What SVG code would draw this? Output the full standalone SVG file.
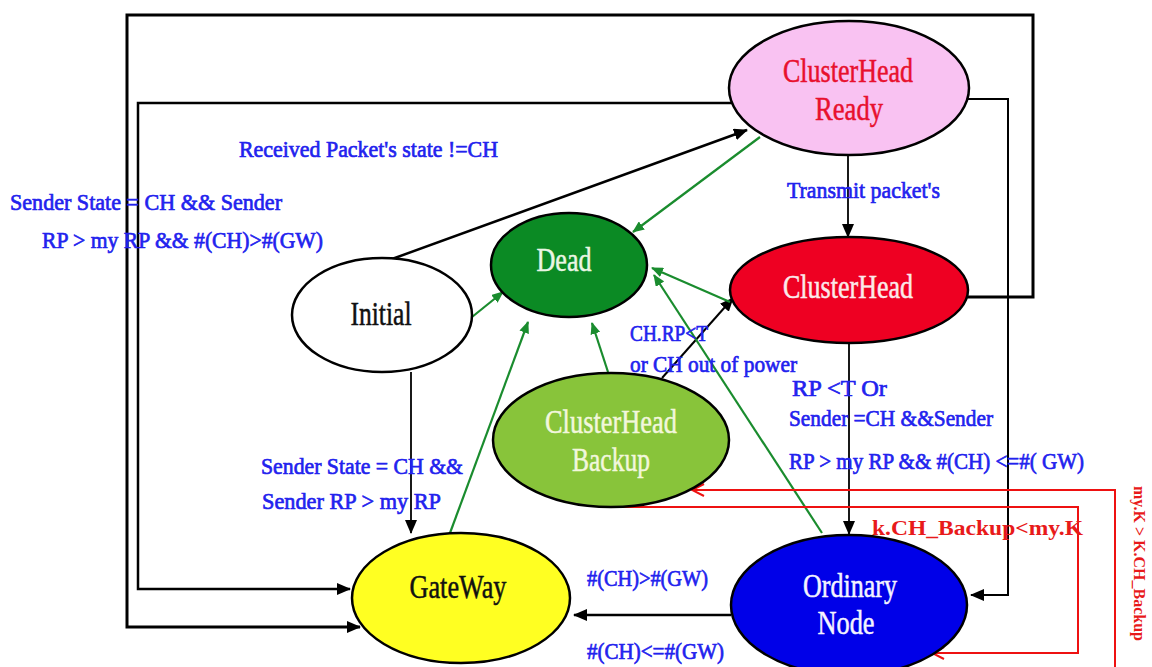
<svg xmlns="http://www.w3.org/2000/svg" width="1152" height="667" viewBox="0 0 1152 667">
<style>
.node{stroke:#000;stroke-width:2.5}
.nl{font-family:"Liberation Serif","Times New Roman",serif;font-size:33px;text-anchor:middle;stroke-width:0.5}
.lbl{font-family:"Liberation Serif","Times New Roman",serif;font-size:24px;fill:#2222ee;stroke:#2222ee;stroke-width:0.7}
.blk{fill:none;stroke:#000}
.grn{fill:none;stroke:#1a8c2e;stroke-width:2.2}
.red{fill:none;stroke:#ee1111;stroke-width:2}
.rl{font-family:"Liberation Serif","Times New Roman",serif;font-weight:bold;font-size:21px;fill:#e81a1a}
</style>
<defs>
<marker id="ab" viewBox="0 0 14 12" refX="13" refY="6" markerWidth="14" markerHeight="12" orient="auto" markerUnits="userSpaceOnUse"><path d="M0,0 L14,6 L0,12 z" fill="#000"/></marker>
<marker id="ag" viewBox="0 0 12 10" refX="11" refY="5" markerWidth="12" markerHeight="10" orient="auto" markerUnits="userSpaceOnUse"><path d="M0,0 L12,5 L0,10 z" fill="#1a8c2e"/></marker>
<marker id="ar" viewBox="0 0 14 14" refX="13" refY="7" markerWidth="14" markerHeight="14" orient="auto" markerUnits="userSpaceOnUse"><path d="M1,1 L13,7 L1,13" fill="none" stroke="#ee1111" stroke-width="2"/></marker>
</defs>
<rect width="1152" height="667" fill="#fff"/>
<g id="connectors">
<path class="blk" stroke-width="3" d="M966,297 H1033 V15 H127 V627 H360" marker-end="url(#ab)"/>
<path class="blk" stroke-width="2.5" d="M732,103 H138 V589 H350" marker-end="url(#ab)"/>
<path class="blk" stroke-width="2" d="M966,99 H1008 V595 H971" marker-end="url(#ab)"/>
<path class="blk" stroke-width="2.5" d="M392,259 L747,130" marker-end="url(#ab)"/>
<path class="blk" stroke-width="1.8" d="M848,155 V237" marker-end="url(#ab)"/>
<path class="blk" stroke-width="1.8" d="M849,343 V534" marker-end="url(#ab)"/>
<path class="blk" stroke-width="1.8" d="M411,372 V533" marker-end="url(#ab)"/>
<path class="blk" stroke-width="2.5" d="M731,615 H574" marker-end="url(#ab)"/>
<path class="blk" stroke-width="2" d="M662,378 L733,298" marker-end="url(#ab)"/>
<path class="grn" d="M760,137 L633,232" marker-end="url(#ag)"/>
<path class="grn" d="M472,317 L503,292" marker-end="url(#ag)"/>
<path class="grn" d="M450,533 L528,322" marker-end="url(#ag)"/>
<path class="grn" d="M608,372 L592,323" marker-end="url(#ag)"/>
<path class="grn" d="M730,302 L652,268" marker-end="url(#ag)"/>
<path class="grn" d="M822,533 L654,275" marker-end="url(#ag)"/>
<path class="red" d="M1115,667 V490 H692" marker-end="url(#ar)"/>
<path class="red" d="M614,507 H1078 V653 H932" marker-end="url(#ar)"/>
</g>
<g id="labels">
<text class="lbl" x="239" y="157" textLength="259" lengthAdjust="spacingAndGlyphs">Received Packet's state  !=CH</text>
<text class="lbl" x="10" y="210" textLength="272" lengthAdjust="spacingAndGlyphs">Sender State = CH &amp;&amp;  Sender</text>
<text class="lbl" x="42" y="248" textLength="281" lengthAdjust="spacingAndGlyphs">RP &gt;  my RP  &amp;&amp; #(CH)&gt;#(GW)</text>
<text class="lbl" x="787" y="198" textLength="153" lengthAdjust="spacingAndGlyphs">Transmit packet's</text>
<text class="lbl" x="630" y="341" textLength="78" lengthAdjust="spacingAndGlyphs">CH.RP&lt;T</text>
<text class="lbl" x="630" y="372" textLength="167" lengthAdjust="spacingAndGlyphs">or CH out of power</text>
<text class="lbl" x="792" y="396" textLength="95" lengthAdjust="spacingAndGlyphs">RP &lt;T   Or</text>
<text class="lbl" x="789" y="426" textLength="204" lengthAdjust="spacingAndGlyphs">Sender =CH &amp;&amp;Sender</text>
<text class="lbl" x="789" y="469" textLength="295" lengthAdjust="spacingAndGlyphs">RP &gt; my RP &amp;&amp; #(CH) &lt;=#( GW)</text>
<text class="lbl" x="261" y="474" textLength="202" lengthAdjust="spacingAndGlyphs">Sender State = CH  &amp;&amp;</text>
<text class="lbl" x="262" y="509" textLength="179" lengthAdjust="spacingAndGlyphs">Sender RP &gt;  my RP</text>
<text class="lbl" x="587" y="586" textLength="121" lengthAdjust="spacingAndGlyphs">#(CH)&gt;#(GW)</text>
<text class="lbl" x="587" y="659" textLength="137" lengthAdjust="spacingAndGlyphs">#(CH)&lt;=#(GW)</text>
<text class="rl" x="872" y="535" textLength="211" lengthAdjust="spacingAndGlyphs">k.CH_Backup&lt;my.K</text>
<text class="rl" x="1139" y="486" style="writing-mode:vertical-rl;font-size:16px">my.K &gt; K.CH_Backup</text>
</g>
<g id="node-chready">
<ellipse class="node" cx="849" cy="88" rx="120" ry="67" fill="#f9c2f2"/>
<text class="nl" x="848" y="82" fill="#e8102e" stroke="#e8102e" textLength="130" lengthAdjust="spacingAndGlyphs">ClusterHead</text>
<text class="nl" x="849" y="120" fill="#e8102e" stroke="#e8102e" textLength="68" lengthAdjust="spacingAndGlyphs">Ready</text>
</g>
<g id="node-clusterhead">
<ellipse class="node" cx="849" cy="290" rx="119" ry="53" fill="#ee0022"/>
<text class="nl" x="848" y="298" fill="#fbeaea" stroke="#fbeaea" textLength="130" lengthAdjust="spacingAndGlyphs">ClusterHead</text>
</g>
<g id="node-dead">
<ellipse class="node" cx="569" cy="265" rx="78" ry="52" fill="#0b8a24"/>
<text class="nl" x="564" y="271" fill="#eaf6e4" stroke="#eaf6e4" textLength="55" lengthAdjust="spacingAndGlyphs">Dead</text>
</g>
<g id="node-initial">
<ellipse class="node" cx="382" cy="315" rx="90" ry="57" fill="#fff"/>
<text class="nl" x="381" y="325" fill="#111" stroke="#111" textLength="61" lengthAdjust="spacingAndGlyphs">Initial</text>
</g>
<g id="node-backup">
<ellipse class="node" cx="611" cy="440" rx="118" ry="67" fill="#88c43a"/>
<text class="nl" x="611" y="433" fill="#f2f7dc" stroke="#f2f7dc" textLength="132" lengthAdjust="spacingAndGlyphs">ClusterHead</text>
<text class="nl" x="611" y="471" fill="#f2f7dc" stroke="#f2f7dc" textLength="78" lengthAdjust="spacingAndGlyphs">Backup</text>
</g>
<g id="node-gateway">
<ellipse class="node" cx="461" cy="598" rx="109" ry="65" fill="#ffff22"/>
<text class="nl" x="458" y="598" fill="#111" stroke="#111" textLength="97" lengthAdjust="spacingAndGlyphs">GateWay</text>
</g>
<g id="node-ordinary">
<ellipse class="node" cx="849" cy="605" rx="118" ry="70" fill="#0000e8"/>
<text class="nl" x="850" y="597" fill="#f4f4ff" stroke="#f4f4ff" textLength="94" lengthAdjust="spacingAndGlyphs">Ordinary</text>
<text class="nl" x="846" y="634" fill="#f4f4ff" stroke="#f4f4ff" textLength="57" lengthAdjust="spacingAndGlyphs">Node</text>
</g>
</svg>
